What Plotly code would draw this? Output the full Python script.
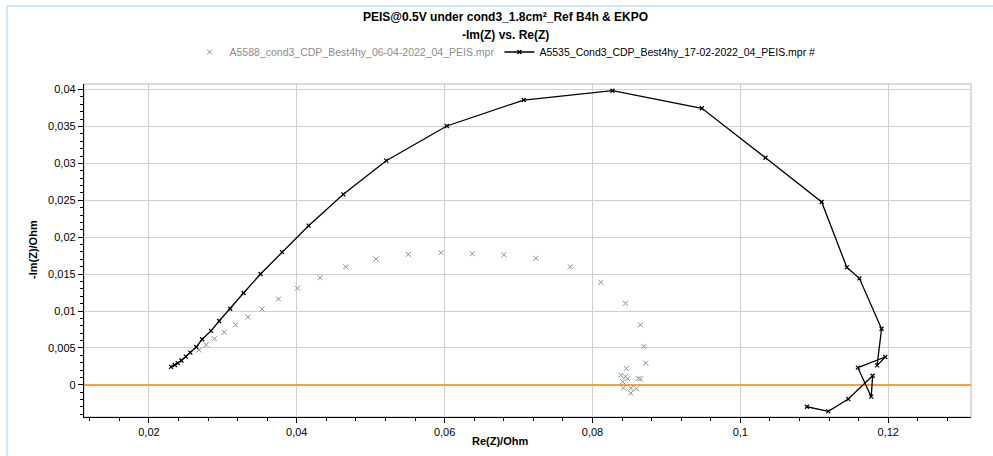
import plotly.graph_objects as go

# ---- data ----
a5535_re = [0.0230, 0.0235, 0.0239, 0.0244, 0.0250, 0.0256, 0.0264, 0.0272, 0.0284, 0.0295,
            0.0310, 0.0328, 0.0351, 0.0380, 0.0416, 0.0463, 0.0521, 0.0603, 0.0707, 0.0827,
            0.0948, 0.1034, 0.1110, 0.1144, 0.1161, 0.1191, 0.1185, 0.1196, 0.1159, 0.1177,
            0.1179, 0.1146, 0.1119, 0.1090]
a5535_im = [0.00243, 0.00268, 0.00295, 0.00330, 0.00381, 0.00437, 0.00512, 0.00617, 0.00731, 0.00865,
            0.01031, 0.01244, 0.01501, 0.01799, 0.02156, 0.02581, 0.03037, 0.03507, 0.03859, 0.03985,
            0.03747, 0.03077, 0.02477, 0.01592, 0.01443, 0.00760, 0.00264, 0.00377, 0.00232, -0.00161,
            0.00123, -0.00192, -0.00359, -0.00297]

a5588_re = [0.0268, 0.02775, 0.02886, 0.03018, 0.03172, 0.03338, 0.03531, 0.03753, 0.04009, 0.04315,
            0.04662, 0.05072, 0.05509, 0.05950, 0.06374, 0.06801, 0.07234, 0.07699, 0.08112, 0.08446,
            0.08649, 0.08694, 0.08720, 0.08459, 0.08620, 0.08650, 0.08383, 0.08446, 0.08477, 0.08409,
            0.08419, 0.08518, 0.08595, 0.08518]
a5588_im = [0.00472, 0.00544, 0.00625, 0.00711, 0.00814, 0.00919, 0.01027, 0.01163, 0.01307, 0.01451,
            0.01600, 0.01705, 0.01768, 0.01790, 0.01776, 0.01763, 0.01714, 0.01600, 0.01389, 0.01104,
            0.00814, 0.00521, 0.00295, 0.00223, 0.00086, 0.00080, 0.00128, 0.00110, 0.00083, 0.00042,
            -0.00043, -0.00047, -0.00053, -0.00111]

x_ticks = [0.02, 0.04, 0.06, 0.08, 0.1, 0.12]
y_ticks = [0, 0.005, 0.01, 0.015, 0.02, 0.025, 0.03, 0.035, 0.04]

title_text = "PEIS@0.5V under cond3_1.8cm²_Ref B4h & EKPO"
subtitle_text = "-Im(Z) vs. Re(Z)"
name_a5588 = "A5588_cond3_CDP_Best4hy_06-04-2022_04_PEIS.mpr"
name_a5535 = "A5535_Cond3_CDP_Best4hy_17-02-2022_04_PEIS.mpr #"

FONT = "Liberation Sans, Arial, sans-serif"
W, H = 993, 456
L, R, T, B = 84, 22, 84, 39
pw, ph = W - L - R, H - T - B


def px_x(p):
    return (p - L) / pw


def px_y(p):
    return (H - B - p) / ph


fig = go.Figure()
fig.add_trace(go.Scatter(
    x=a5588_re, y=a5588_im, mode="markers",
    name="<span style='color:#8c8c8c'>" + name_a5588 + "</span>",
    marker=dict(symbol="x-thin", size=5, line=dict(width=1, color="#8c8c8c"), color="#8c8c8c"),
))
fig.add_trace(go.Scatter(
    x=a5535_re, y=a5535_im, mode="lines+markers",
    name=name_a5535,
    line=dict(color="black", width=1.3),
    marker=dict(symbol="x-thin", size=4, line=dict(width=1.2, color="black"), color="black"),
))

fig.update_layout(
    width=W, height=H,
    margin=dict(l=L, r=R, t=T, b=B),
    paper_bgcolor="white", plot_bgcolor="white",
    font=dict(family=FONT, size=11, color="black"),
    separators=", ",
    showlegend=True,
    legend=dict(orientation="h", x=px_x(505), xanchor="center", y=px_y(52), yanchor="middle",
                font=dict(size=10.5, family=FONT), bgcolor="rgba(0,0,0,0)",
                itemwidth=30, tracegroupgap=0),
    xaxis=dict(range=[0.01122, 0.1312], tickvals=x_ticks, showgrid=True, gridcolor="#d0d0d0",
               gridwidth=1, zeroline=False, showline=True, linecolor="black", linewidth=1.3,
               ticks="outside", ticklen=5, tickcolor="black",
               minor=dict(dtick=0.004, ticks="outside", ticklen=3, tickcolor="black", showgrid=False),
               tickfont=dict(size=11, family=FONT)),
    yaxis=dict(range=[-0.00436, 0.04076], tickvals=y_ticks, showgrid=True, gridcolor="#d0d0d0",
               gridwidth=1, zeroline=True, zerolinecolor="#f0a050", zerolinewidth=2,
               showline=True, linecolor="black", linewidth=1.3,
               ticks="outside", ticklen=5, tickcolor="black",
               minor=dict(dtick=0.001, ticks="outside", ticklen=3, tickcolor="black", showgrid=False),
               tickfont=dict(size=11, family=FONT)),
    shapes=[
        dict(type="rect", xref="paper", yref="paper", x0=0, x1=1, y0=0, y1=1,
             line=dict(color="#d0d0d0", width=1.5), layer="below"),
        dict(type="line", xref="paper", yref="paper", x0=px_x(7), x1=px_x(W), y0=px_y(6), y1=px_y(6),
             line=dict(color="#c6e0f5", width=1.5)),
        dict(type="line", xref="paper", yref="paper", x0=px_x(7), x1=px_x(7), y0=px_y(6), y1=px_y(H),
             line=dict(color="#c6e0f5", width=1.5)),
    ],
    annotations=[
        dict(text="<b>" + title_text + "</b>", xref="paper", yref="paper", x=px_x(505), y=px_y(17),
             xanchor="center", yanchor="middle", showarrow=False, font=dict(size=12, family=FONT)),
        dict(text="<b>" + subtitle_text + "</b>", xref="paper", yref="paper", x=px_x(505), y=px_y(35),
             xanchor="center", yanchor="middle", showarrow=False, font=dict(size=12, family=FONT)),
        dict(text="<b>Re(Z)/Ohm</b>", xref="paper", yref="paper", x=px_x(500), y=px_y(441),
             xanchor="center", yanchor="middle", showarrow=False, font=dict(size=11, family=FONT)),
        dict(text="<b>-Im(Z)/Ohm</b>", xref="paper", yref="paper", x=px_x(33), y=px_y(250),
             xanchor="center", yanchor="middle", showarrow=False, textangle=-90,
             font=dict(size=11, family=FONT)),
    ],
)

fig.write_html("out.html")
